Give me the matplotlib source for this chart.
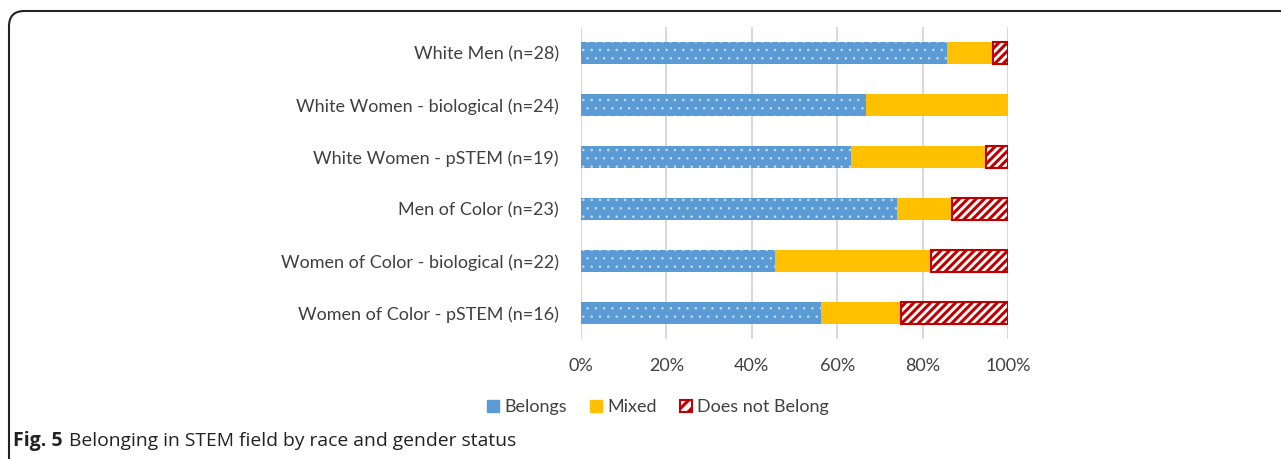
import matplotlib
matplotlib.use("Agg")
import matplotlib.pyplot as plt
from matplotlib.patches import FancyBboxPatch, Patch
import numpy as np

categories = ["White Men (n=28)", "White Women - biological (n=24)", "White Women - pSTEM (n=19)",
              "Men of Color (n=23)", "Women of Color - biological (n=22)", "Women of Color - pSTEM (n=16)"]
belongs = [85.7, 66.7, 63.2, 73.9, 45.5, 56.3]
mixed = [10.7, 33.3, 31.6, 13.0, 36.4, 18.7]
not_belong = [3.6, 0.0, 5.2, 13.1, 18.1, 25.0]
series_names = ["Belongs", "Mixed", "Does not Belong"]
xticks = [0, 20, 40, 60, 80, 100]

W, H = 1281, 459
fig = plt.figure(figsize=(W/100, H/100), dpi=100)

ax = fig.add_axes([581/W, 1-339/H, (1008-581)/W, (339-27)/H])
y = np.arange(len(categories))
h = 22/52
blue, yellow, red = "#5B9BD5", "#FFC000", "#C00000"
dot_col = (1, 1, 1, 0.55)

plt.rcParams['hatch.linewidth'] = 0.6
b1 = ax.barh(y, belongs, height=h, color=blue, hatch="..", linewidth=0)
for bar in b1:
    bar.set_edgecolor(dot_col)
    bar.set_linewidth(0)
b2 = ax.barh(y, mixed, left=belongs, height=h, color=yellow, linewidth=0)
left3 = [a+b for a, b in zip(belongs, mixed)]
plt.rcParams['hatch.linewidth'] = 2.2
b3 = ax.barh([yy for yy, v in zip(y, not_belong) if v > 0],
             [v for v in not_belong if v > 0],
             left=[l for l, v in zip(left3, not_belong) if v > 0],
             height=h, facecolor="white", edgecolor=red, hatch="////", linewidth=1.5)

ax.set_xlim(0, 100)
ax.set_ylim(len(categories)-0.5, -0.5)
ax.set_xticks(xticks)
ax.set_xticklabels([f"{t}%" for t in xticks], fontsize=13, family="Lato", color="#404040")
ax.set_yticks(y)
ax.set_yticklabels(categories, fontsize=13, family="Lato", color="#404040")
ax.tick_params(axis="x", length=0, pad=14)
ax.tick_params(axis="y", length=0, pad=16)
ax.xaxis.grid(True, color="#D9D9D9", linewidth=1.5)
ax.set_axisbelow(True)
for s in ax.spines.values():
    s.set_visible(False)

handles = [Patch(facecolor=blue, edgecolor=blue),
           Patch(facecolor=yellow, edgecolor=yellow),
           Patch(facecolor="white", edgecolor=red, hatch="///", linewidth=1.5)]
fig.legend(handles, series_names, loc="center", bbox_to_anchor=(658/W, 1-407/H), ncol=3,
           frameon=False, prop={"family": "Lato", "size": 13}, handlelength=0.65, handleheight=0.65,
           handletextpad=0.3, columnspacing=1.3, labelcolor="#404040")

frame = FancyBboxPatch((9/W, -0.1), 1.2, 1-11/H+0.1, boxstyle="round,pad=0,rounding_size=0.012",
                       transform=fig.transFigure, fill=False, edgecolor="#222222", linewidth=1.5,
                       mutation_aspect=W/H)
fig.patches.append(frame)

t1 = fig.text(13/W, 1-441/H, "Fig. 5", fontsize=14, fontweight="bold", family="Open Sans",
              va="center", color="#222222")
fig.canvas.draw()
bb = t1.get_window_extent()
fig.text((bb.x1 + 6)/W, 1-441/H, "Belonging in STEM field by race and gender status", fontsize=13.9,
         family="Open Sans", va="center", color="#222222")

fig.savefig("out.png", dpi=100)
